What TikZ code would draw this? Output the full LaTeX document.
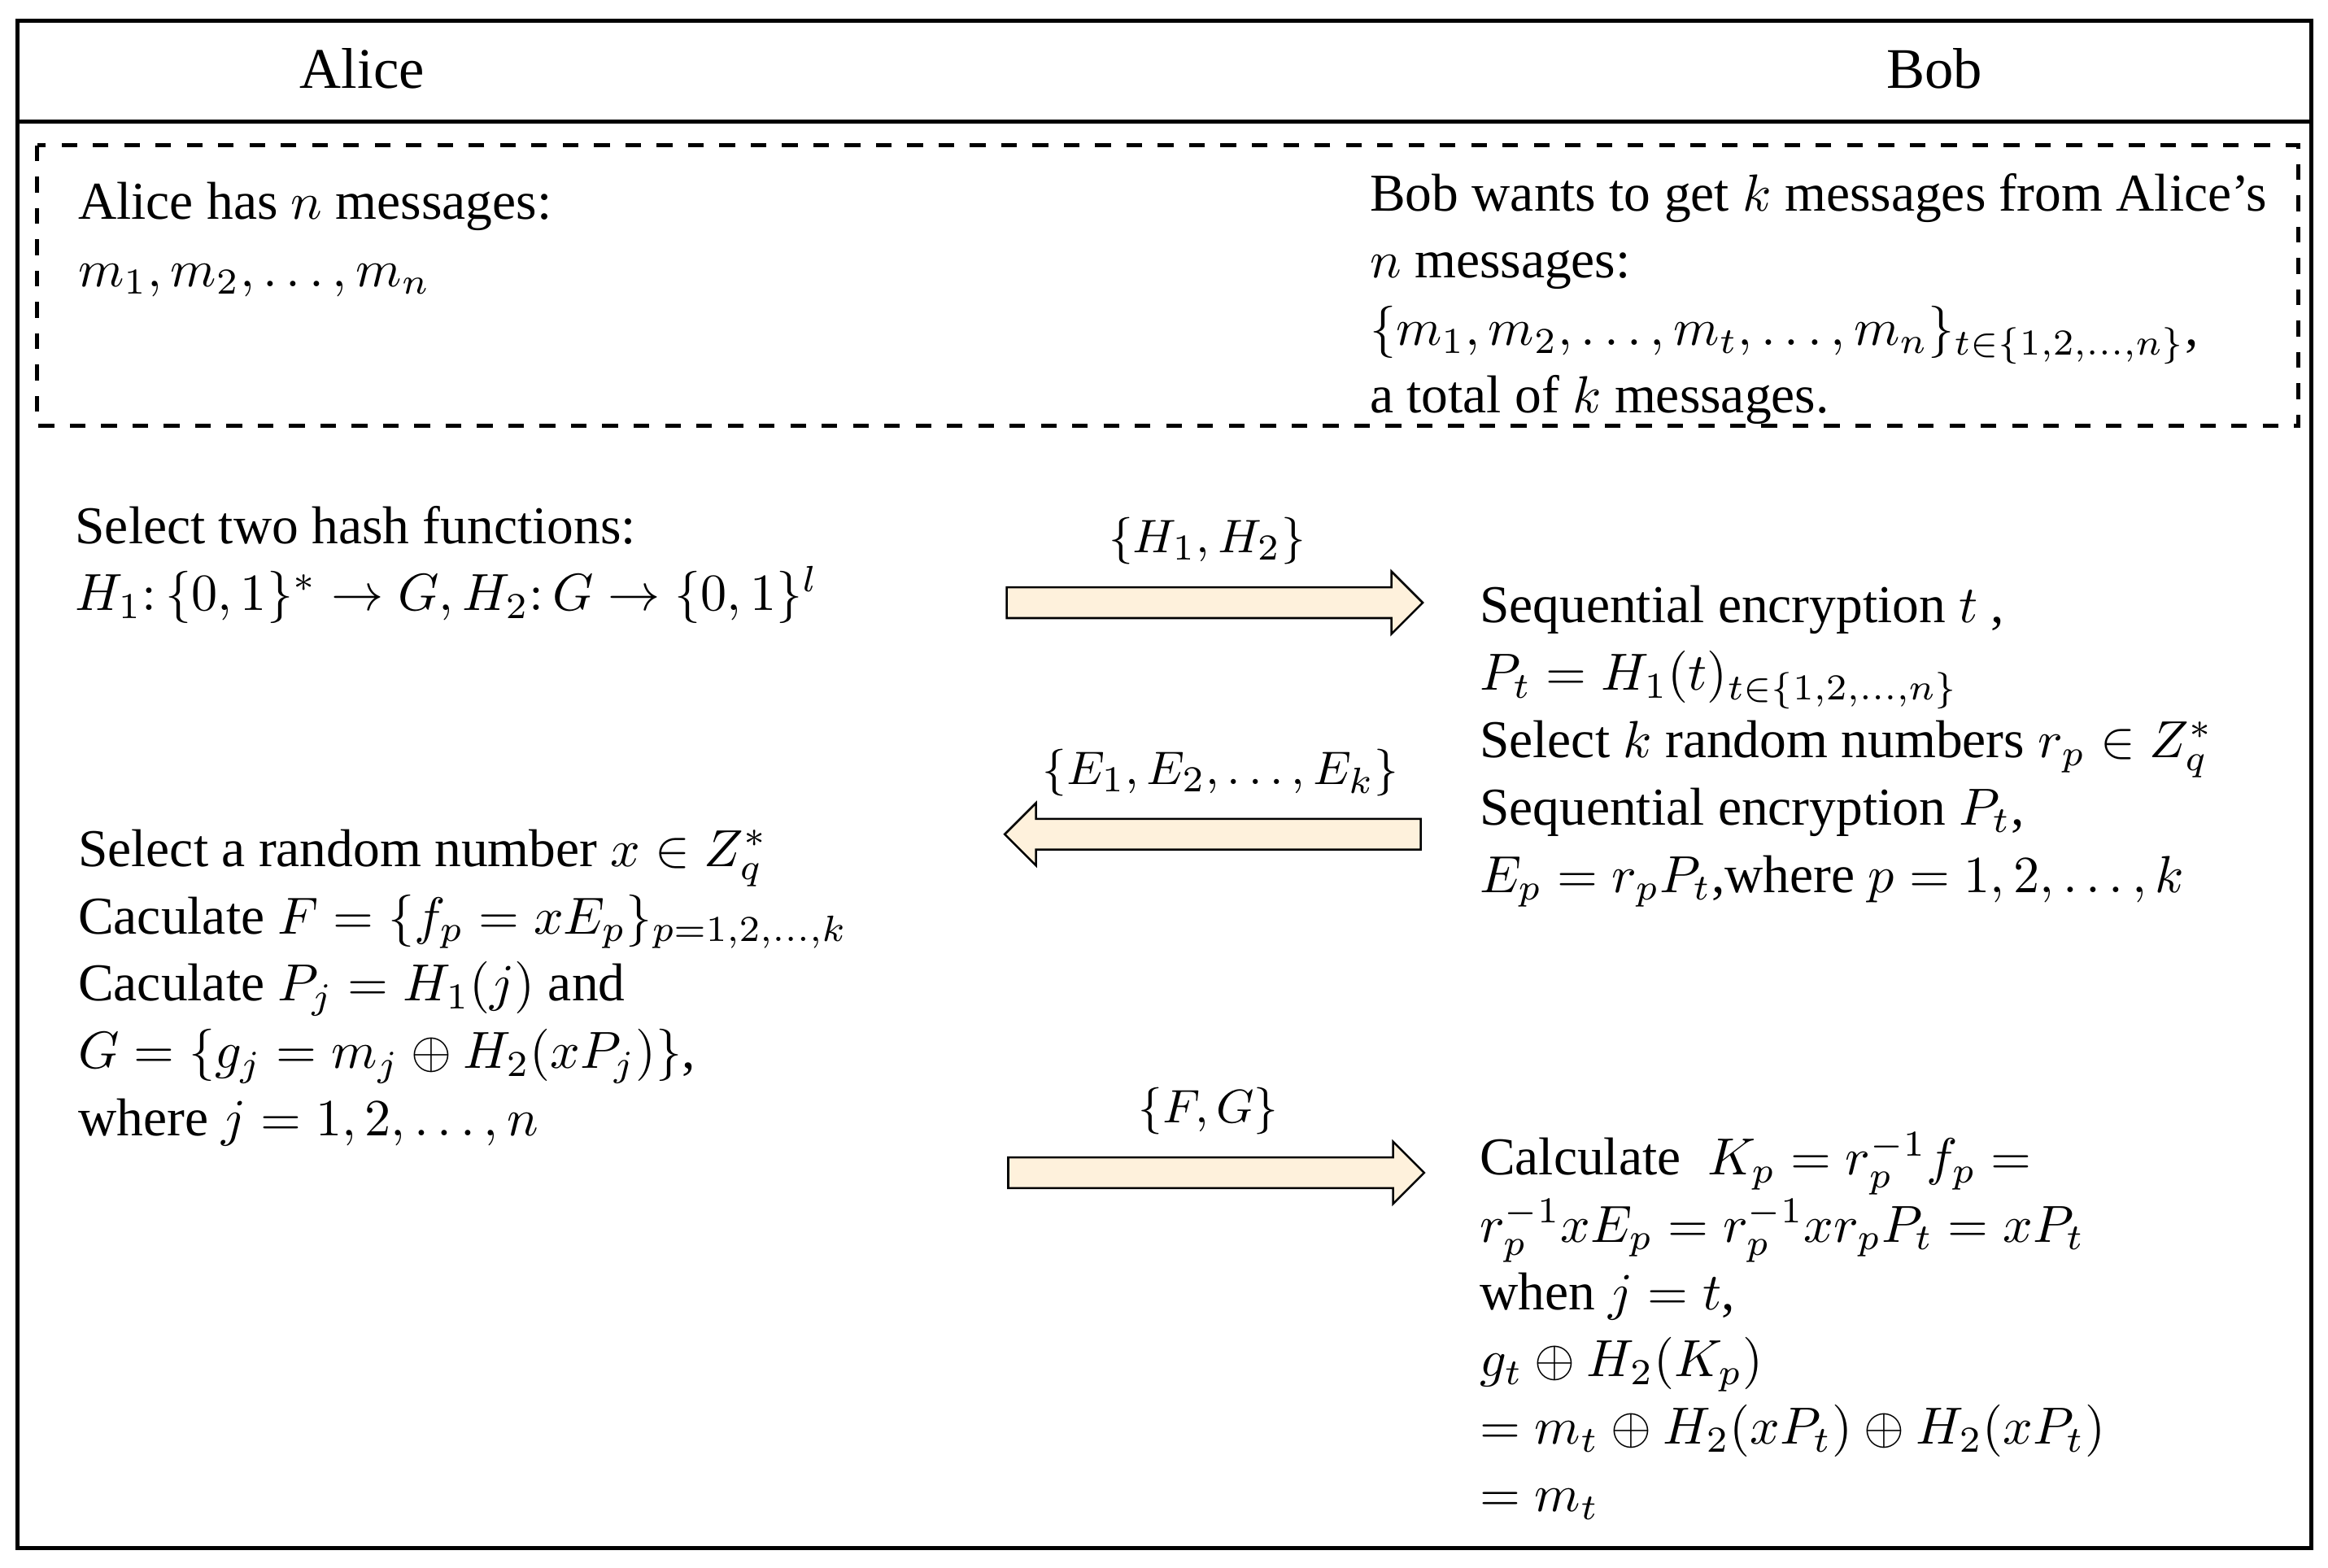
\documentclass[tikz,border=0pt]{standalone}
\usepackage{fontspec}
\setmainfont{Liberation Serif}
\usetikzlibrary{shapes.arrows}
\tikzset{
  txt/.style={anchor=north west,align=left,inner sep=0pt,font=\fontsize{10.2}{12.9}\selectfont},
  msg/.style={single arrow,draw,fill=yellow!20!orange!12,minimum height=2.8cm,
    minimum width=0.42cm,single arrow head extend=0.1cm,inner sep=0.9mm,
    single arrow head indent=0pt},
  lbl/.style={font=\fontsize{9.5}{11}\selectfont,inner sep=0pt}
}
\begin{document}
\begin{tikzpicture}[x=0.01cm,y=-0.01cm]
  \useasboundingbox (0,0) rectangle (1568,1056);
  \draw[thick] (12,14) rectangle (1557,1043);
  \draw[thick] (12,82) -- (1557,82);
  \node[font=\fontsize{11}{13}\selectfont] (alice) at (244,46) {Alice};
  \node[font=\fontsize{11}{13}\selectfont] (bob) at (1303,46) {Bob};
  \draw[dashed,thick] (25,98) rectangle (1548,287);
  % setup
  \node[txt] (ahas) at (52,122) {Alice has $n$ messages:\\ $m_1,m_2,\ldots,m_n$};
  \node[txt] (bwant) at (922,116) {Bob wants to get $k$ messages from Alice's\\
    $n$ messages:\\ $\{m_1,m_2,\ldots,m_t,\ldots,m_n\}_{t\in\{1,2,\ldots,n\}}$,\\
    a total of $k$ messages.};
  % steps
  \node[txt] (hash) at (50,340) {Select two hash functions:\\
    $H_1\colon\{0,1\}^*\to G,H_2\colon G\to\{0,1\}^l$};
  \node[txt] (enc) at (996,394) {Sequential encryption $t$ ,\\
    $P_t=H_1(t)_{t\in\{1,2,\ldots,n\}}$\\
    Select $k$ random numbers $r_p\in Z_q^*$\\
    Sequential encryption $P_t$,\\
    $E_p=r_pP_t$,where $p=1,2,\ldots,k$};
  \node[txt] (calc) at (52,558) {Select a random number $x\in Z_q^*$\\
    Caculate $F=\{f_p=xE_p\}_{p=1,2,\ldots,k}$\\
    Caculate $P_j=H_1(j)$ and\\
    $G=\{g_j=m_j\oplus H_2(xP_j)\}$,\\
    where $j=1,2,\ldots,n$};
  \node[txt] (kp) at (996,762) {Calculate\ \ $K_p=r_p^{-1}f_p=$\\
    $r_p^{-1}xE_p=r_p^{-1}xr_pP_t=xP_t$\\
    when $j=t$,\\
    $g_t\oplus H_2(K_p)$\\
    $=m_t\oplus H_2(xP_t)\oplus H_2(xP_t)$\\
    $=m_t$};
  % messages
  \node[msg] (a1) at (813,406) {};
  \node[msg,shape border rotate=180] (a2) at (822,562) {};
  \node[msg] (a3) at (814,790) {};
  \node[lbl,above=0.14cm] at (a1.north) {$\{H_1,H_2\}$};
  \node[lbl,above=0.14cm] at (a2.north) {$\{E_1,E_2,\ldots,E_k\}$};
  \node[lbl,above=0.14cm] at (a3.north) {$\{F,G\}$};
\end{tikzpicture}
\end{document}
